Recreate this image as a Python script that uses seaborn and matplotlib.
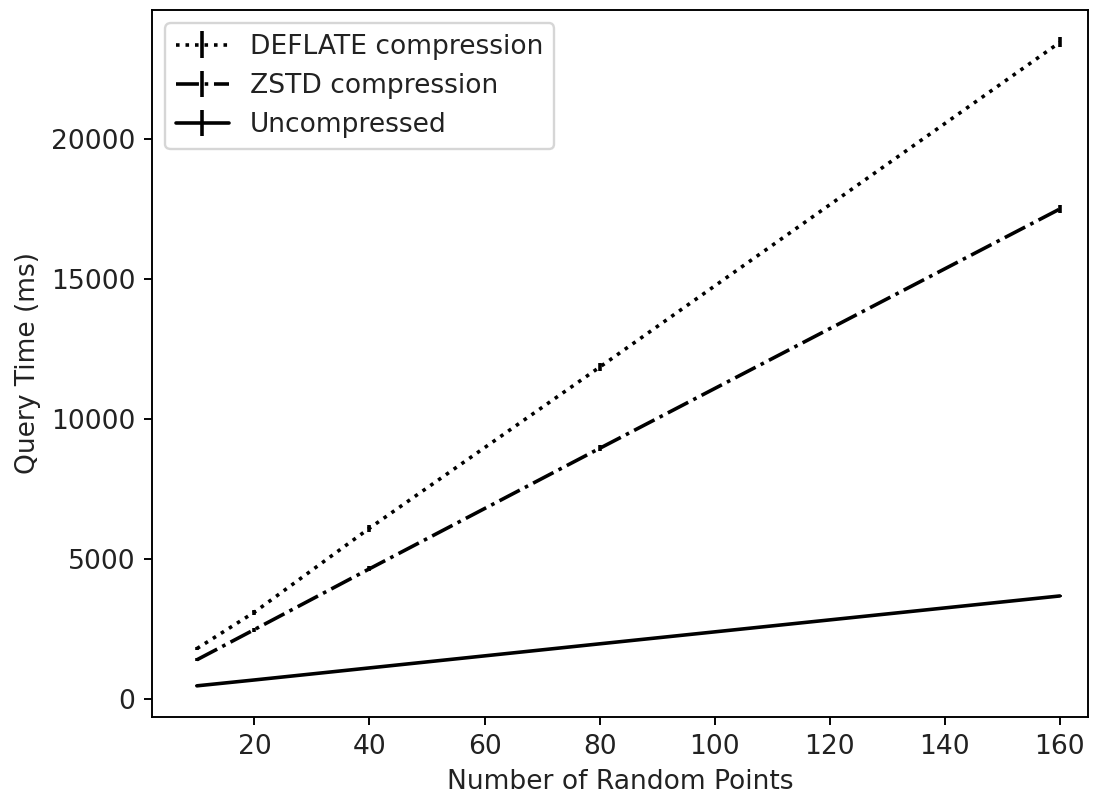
import pandas as pd
import seaborn as sns
import matplotlib
matplotlib.use('Agg')
import matplotlib.pyplot as plt

# values
n_points = [10, 20, 40, 80, 160]
deflate_ms = [1800, 3100, 6100, 11850, 23450]
zstd_ms = [1400, 2480, 4650, 8950, 17500]
uncompressed_ms = [470, 680, 1110, 1970, 3680]
deflate_err = [60, 90, 120, 150, 180]
zstd_err = [50, 70, 90, 110, 130]
uncompressed_err = [15, 20, 25, 30, 40]

series = ['DEFLATE compression', 'ZSTD compression', 'Uncompressed']
styles = {'DEFLATE compression': ':', 'ZSTD compression': '-.', 'Uncompressed': '-'}

df = pd.concat([
    pd.DataFrame({'points': n_points, 'time': deflate_ms, 'err': deflate_err, 'method': series[0]}),
    pd.DataFrame({'points': n_points, 'time': zstd_ms, 'err': zstd_err, 'method': series[1]}),
    pd.DataFrame({'points': n_points, 'time': uncompressed_ms, 'err': uncompressed_err, 'method': series[2]}),
])

sns.set_style("ticks", {"axes.edgecolor": "black", "xtick.color": "black", "ytick.color": "black",
                        "text.color": "#222222", "axes.labelcolor": "#222222"})
plt.rcParams['font.family'] = ['DejaVu Sans']
plt.rcParams['font.size'] = 11.1

fig = plt.figure(figsize=(1100 / 172, 798 / 172), dpi=172)
ax = fig.add_axes([152 / 1100, 1 - 717 / 798, (1088 - 152) / 1100, (717 - 10) / 798])

for m in series:
    sub = df[df.method == m]
    ax.errorbar(sub.points, sub.time, yerr=sub.err, color='black', linestyle=styles[m],
                linewidth=1.5, elinewidth=1.5, label=m)

ax.set_xlim(2.2, 164.9)
ax.set_ylim(-643, 24607)
ax.set_xticks([20, 40, 60, 80, 100, 120, 140, 160])
ax.set_yticks([0, 5000, 10000, 15000, 20000])
ax.tick_params(labelcolor='#222222')
ax.set_xlabel('Number of Random Points')
ax.set_ylabel('Query Time (ms)')
ax.legend(loc='upper left')

plt.savefig('out.png', dpi=172)
